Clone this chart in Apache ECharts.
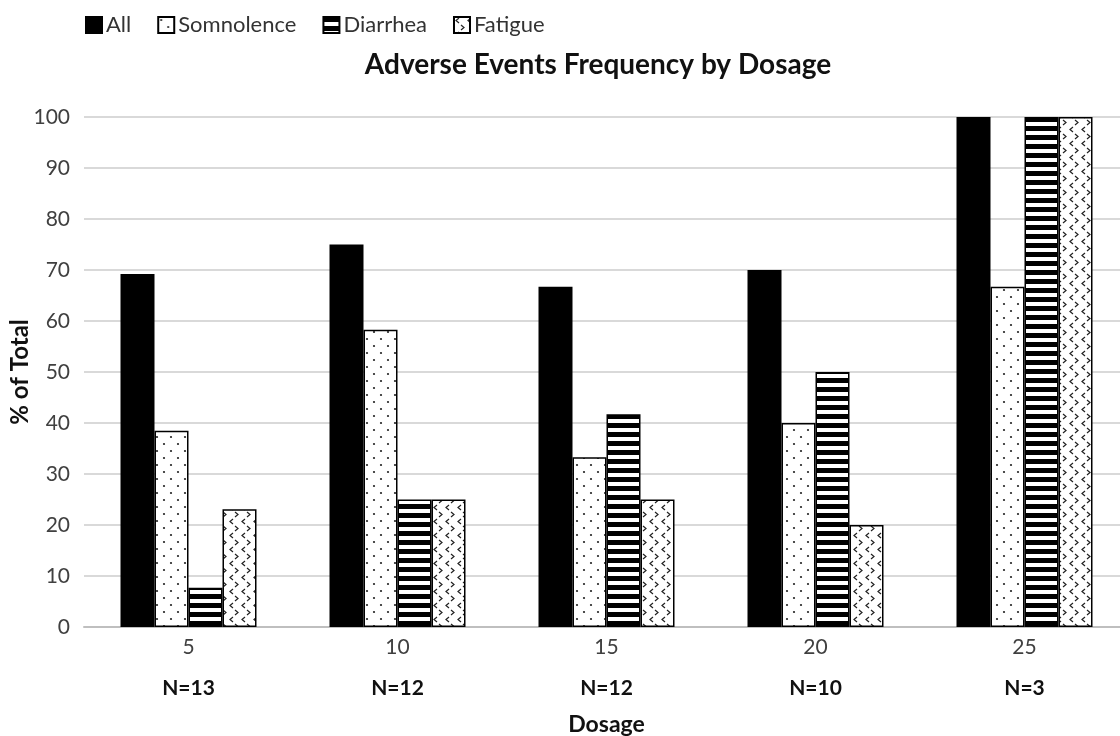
<!DOCTYPE html>
<html>
<head>
<meta charset="utf-8">
<script src="https://cdn.jsdelivr.net/npm/echarts@6/dist/echarts.min.js"></script>
<style>
html,body{margin:0;padding:0;background:#fff;}
#chart{width:1120px;height:736px;}
</style>
</head>
<body>
<div id="chart"></div>
<script>
// ---- data ----
const categories = ['5', '10', '15', '20', '25'];
const sampleSizes = [13, 12, 12, 10, 3];
const seriesNames = ['All', 'Somnolence', 'Diarrhea', 'Fatigue'];
const allValues = [69.2, 75.0, 66.7, 70.0, 100];
const somnolenceValues = [38.5, 58.3, 33.3, 40.0, 66.7];
const diarrheaValues = [7.7, 25.0, 41.7, 50.0, 100];
const fatigueValues = [23.1, 25.0, 25.0, 20.0, 100];

// ---- patterns ----
function makeCanvas(w, h) {
  const c = document.createElement('canvas');
  c.width = w; c.height = h;
  const ctx = c.getContext('2d');
  ctx.fillStyle = '#fff';
  ctx.fillRect(0, 0, w, h);
  return [c, ctx];
}
function dotPattern() {
  const [c, ctx] = makeCanvas(14, 14);
  ctx.fillStyle = '#222';
  [[3, 3], [10, 10]].forEach(p => {
    ctx.beginPath(); ctx.arc(p[0], p[1], 1.1, 0, Math.PI * 2); ctx.fill();
  });
  return c;
}
function stripePattern() {
  const [c, ctx] = makeCanvas(8, 9);
  ctx.fillStyle = '#000';
  ctx.fillRect(0, 0, 8, 5);
  return c;
}
function chevronPattern() {
  const [c, ctx] = makeCanvas(12, 14);
  ctx.strokeStyle = '#222';
  ctx.lineWidth = 1.2;
  ctx.beginPath(); ctx.moveTo(5, 1); ctx.lineTo(2, 3.5); ctx.lineTo(5, 6); ctx.stroke();
  ctx.beginPath(); ctx.moveTo(7, 8); ctx.lineTo(10, 10.5); ctx.lineTo(7, 13); ctx.stroke();
  return c;
}

const fills = [
  '#000',
  { image: dotPattern(), repeat: 'repeat' },
  { image: stripePattern(), repeat: 'repeat' },
  { image: chevronPattern(), repeat: 'repeat' }
];
const valueSets = [allValues, somnolenceValues, diarrheaValues, fatigueValues];

const FONT = 'Lato, "Open Sans", sans-serif';

const chart = echarts.init(document.getElementById('chart'), null, { renderer: 'canvas' });
chart.setOption({
  animation: false,
  backgroundColor: '#fff',
  textStyle: { fontFamily: FONT },
  title: {
    text: 'Adverse Events Frequency by Dosage',
    left: 593, textAlign: 'center', top: 46,
    textStyle: { fontFamily: FONT, fontSize: 28, fontWeight: 'bold', color: '#111' }
  },
  legend: {
    left: 80, top: 9,
    itemWidth: 16, itemHeight: 16, itemGap: 26,
    icon: 'rect',
    textStyle: { fontFamily: FONT, fontSize: 22, color: '#333', padding: [0, 0, 0, -1] },
    data: seriesNames
  },
  grid: { left: 84, top: 117, width: 1045, bottom: 109, containLabel: false, outerBoundsMode: 'none' },
  xAxis: {
    type: 'category',
    data: categories,
    axisTick: { show: false },
    axisLine: { lineStyle: { color: '#bfbfbf', width: 2 } },
    axisLabel: {
      margin: 6,
      formatter: function (v, i) { return '{a|' + v + '}\n{b|N=' + sampleSizes[i] + '}'; },
      rich: {
        a: { fontFamily: FONT, fontSize: 21, color: '#404040', lineHeight: 28 },
        b: { fontFamily: FONT, fontSize: 21, color: '#111', fontWeight: 'bold', lineHeight: 54 }
      }
    },
    name: 'Dosage',
    nameLocation: 'middle',
    nameGap: 86,
    nameMoveOverlap: false,
    nameTextStyle: { fontFamily: FONT, fontSize: 23, fontWeight: 'bold', color: '#111' }
  },
  yAxis: {
    type: 'value',
    min: 0, max: 100, interval: 10,
    axisLine: { show: false },
    axisTick: { show: false },
    axisLabel: { fontFamily: FONT, fontSize: 21, color: '#404040', margin: 14 },
    splitLine: { lineStyle: { color: '#d9d9d9', width: 2 } },
    name: '% of Total',
    nameLocation: 'middle',
    nameRotate: 90,
    nameGap: 52,
    nameMoveOverlap: false,
    nameTextStyle: { fontFamily: FONT, fontSize: 24, fontWeight: 'bold', color: '#111' }
  },
  series: seriesNames.map((n, k) => ({
    name: n,
    type: 'bar',
    data: valueSets[k],
    barWidth: 34,
    barGap: '0%',
    itemStyle: { color: fills[k], borderColor: '#000', borderWidth: 1.5 }
  }))
});
</script>
</body>
</html>
